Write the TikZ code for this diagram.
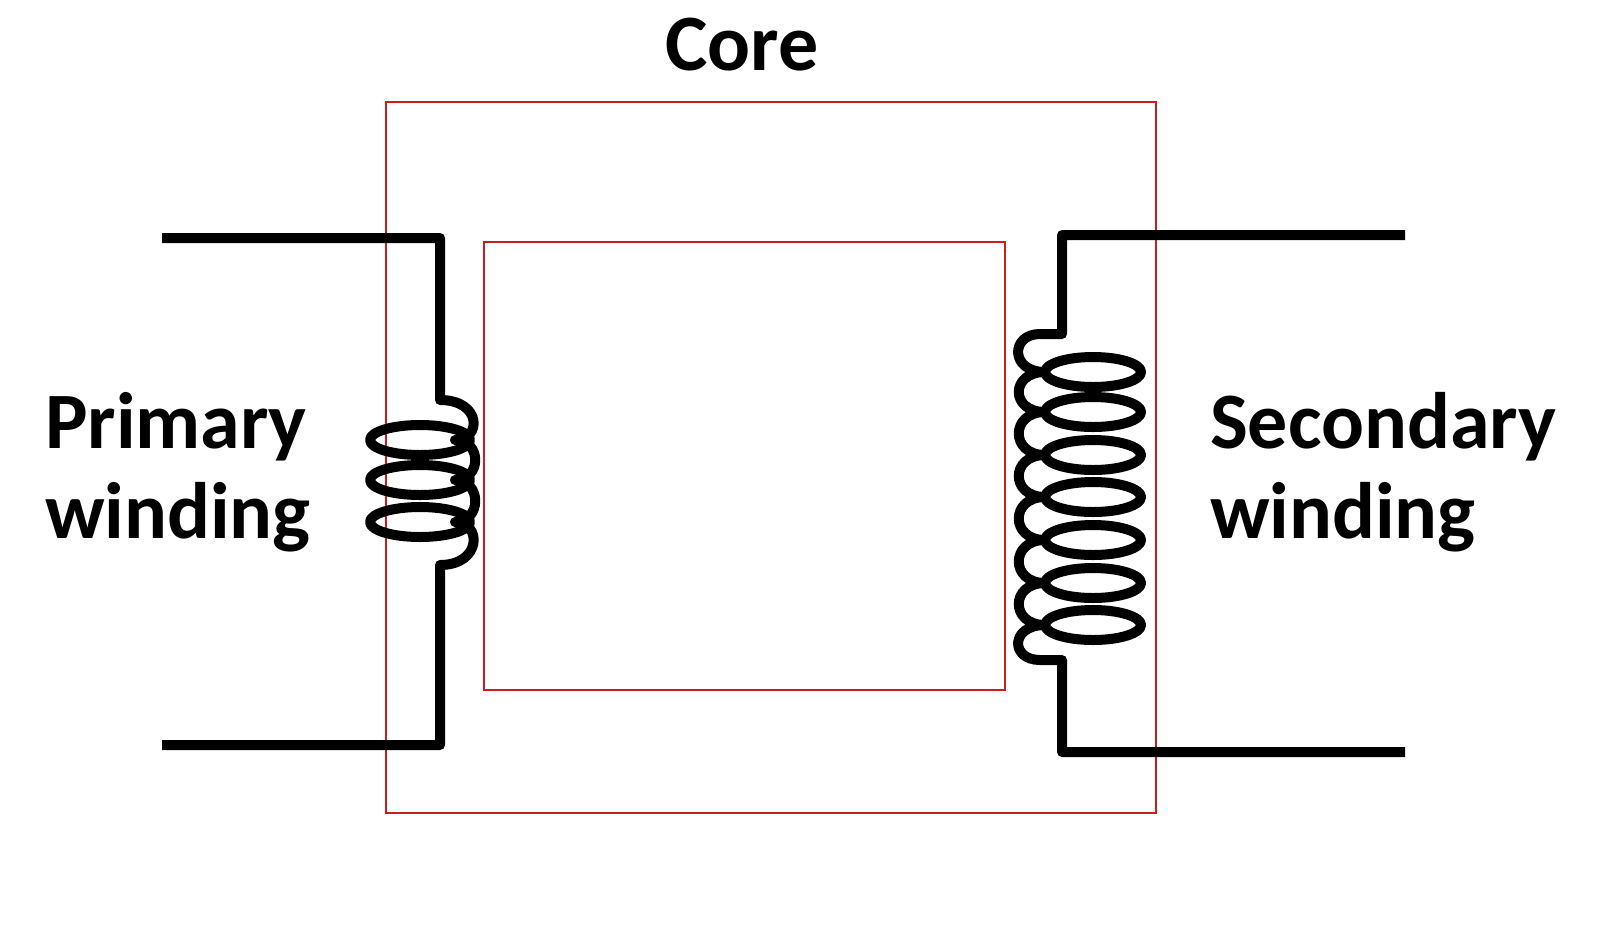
\documentclass[tikz,border=0pt]{standalone}
\usepackage{fontspec}
\setmainfont{Carlito}
\begin{document}
\begin{tikzpicture}[x=0.5pt,y=-0.5pt,
  wire/.style={line width=5pt,line join=round},
  core/.style={draw={rgb,255:red,200;green,30;blue,30},line width=0.8pt},
  lbl/.style={font=\fontsize{40}{45}\selectfont\bfseries,align=left}]
\useasboundingbox (0,0) rectangle (1600,938);
\draw[core] (386,102) rectangle (1156,813);
\draw[core] (484,242) rectangle (1005,690);
% primary
\coordinate (p1) at (162,238); \coordinate (p2) at (162,745);
\draw[wire] (p1) -- (440,238) -- (440,400)
  .. controls (482,400) and (482,440) .. (455,440)
  .. controls (482,440) and (482,480) .. (455,480)
  .. controls (482,480) and (482,522) .. (455,522)
  .. controls (482,522) and (482,565) .. (440,565)
  -- (440,745) -- (p2);
\foreach \y in {440,480,522} \draw[wire] (420,\y) ellipse [x radius=50,y radius=15];
% secondary
\coordinate (s1) at (1405,235); \coordinate (s2) at (1405,752);
\draw[wire] (s1) -- (1062,235) -- (1062,334) -- (1040,334)
  .. controls (1010,334) and (1010,372) .. (1045,372)
  .. controls (1010,372) and (1010,412) .. (1045,412)
  .. controls (1010,412) and (1010,455) .. (1045,455)
  .. controls (1010,455) and (1010,497) .. (1045,497)
  .. controls (1010,497) and (1010,540) .. (1045,540)
  .. controls (1010,540) and (1010,583) .. (1045,583)
  .. controls (1010,583) and (1010,625) .. (1045,625)
  .. controls (1010,625) and (1010,660) .. (1040,660)
  -- (1062,660) -- (1062,752) -- (s2);
\foreach \y in {372,412,455,497,540,583,625} \draw[wire] (1093,\y) ellipse [x radius=48,y radius=15];
\node[lbl,anchor=center] (core) at (742,45) {Core};
\node[lbl,anchor=west] (pw) at (38,472) {Primary\\winding};
\node[lbl,anchor=west] (sw) at (1203,472) {Secondary\\winding};
\end{tikzpicture}
\end{document}
